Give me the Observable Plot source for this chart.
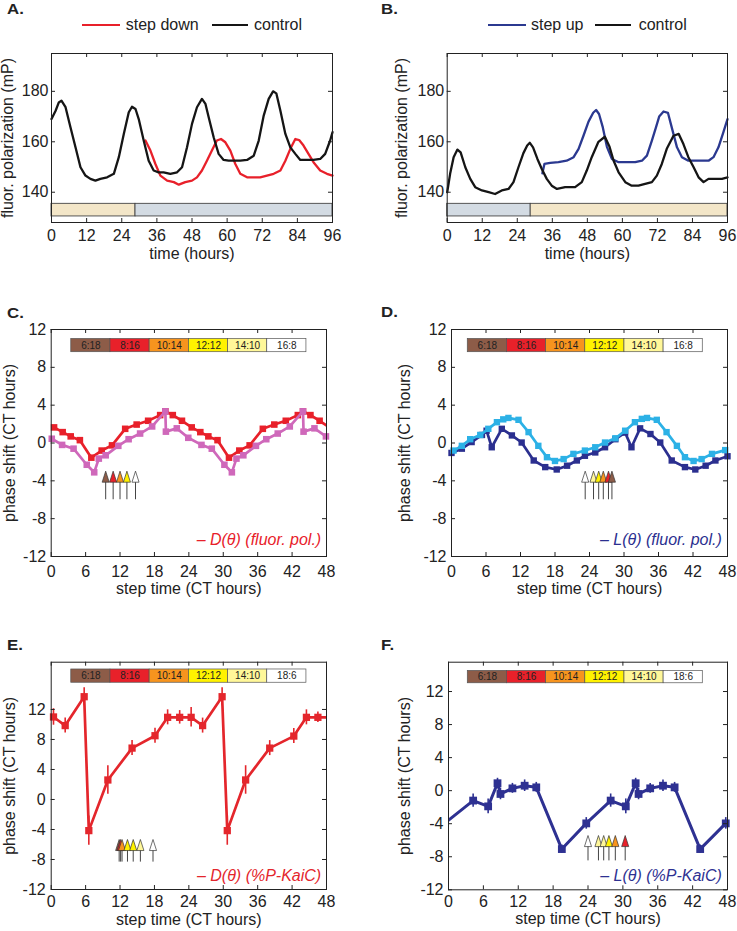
<!DOCTYPE html>
<html><head><meta charset="utf-8">
<script src="https://cdn.jsdelivr.net/npm/d3@7"></script>
<script src="https://cdn.jsdelivr.net/npm/@observablehq/plot@0.6"></script>
<style>
body{margin:0;background:#fff;}
#root{position:relative;width:737px;height:931px;overflow:hidden;font-family:"Liberation Sans",Arial,Helvetica,sans-serif;color:#222;}
.plab{position:absolute;font-weight:bold;font-size:14px;line-height:14px;transform:scaleX(1.2);transform-origin:left top;z-index:2;}
.legt{position:absolute;font-size:16px;line-height:16px;white-space:nowrap;}
.legl{position:absolute;height:2.6px;}
</style></head><body><div id="root"></div>
<script>
// ---------------- DATA ----------------
// Panel A: fluorescence polarization traces (time in hours, mP)
const aControlT = [0,1.4,2.5,3.4,4.8,6.5,8.2,9.9,11.6,13.3,15,16.7,19,21.3,23,24.7,26.4,27.5,28.7,29.8,31.5,33.2,34.9,36.6,38.3,40.6,42.9,44.6,46.3,48,49.7,51.4,52.6,53.7,55.4,57.1,58.8,60.5,62.2,64.5,66.8,69.1,70.8,72.5,74.2,75.7,76.8,78.2,79.9,81.6,83.3,85,87.3,89.5,91.8,93.5,95.2,96];
const aControlV = [169,172.3,175.6,176.3,173.7,165.7,157.8,149.9,146.6,145.3,144.6,145.3,145.9,147.3,153.9,163.1,171.7,173.9,173,169,160.5,152.5,148.6,147.9,147.9,147.3,147.9,149.9,157.8,167.1,173.7,177,175,169.7,161.8,155.2,152.8,152.5,152.5,152.5,152.8,154.5,160.5,170.4,177,180,179.2,172.3,163.1,157.8,155.2,152.8,152.8,152.8,153.2,155.2,160.5,163.8];
const aStepDownT = [32.1,33.8,35.5,37.2,39.5,41.8,43.5,45.7,48,49.7,51.4,53.1,54.8,56.5,57.9,59.4,61.1,62.8,64.5,66.8,69.1,71.3,73.6,75.9,78.2,79.9,81.6,83.3,84.6,86.1,87.8,89.5,91.8,94.1,96];
const aStepDownV = [160.5,156.5,151.2,146.6,144.6,144,143,144,144.6,145.9,148.6,152.5,156.5,160.5,161.1,159.8,156.5,151.2,147.3,145.9,145.9,145.9,146.6,147.3,148.6,152.5,157.2,161.1,160.7,158.5,155.2,151.9,148.6,147.3,146.6];
// Panel B
const bControlT = [0,1,2.2,3.5,4.6,6.2,7.9,9.6,11.9,14.2,16.4,18.7,21,22.7,24.4,26.1,27.4,28.3,29.4,30.9,32.4,34.1,35.8,37.6,40.4,43.8,46.1,47.8,49.5,51.8,54,55.6,57,58.7,61,63.2,65.5,67.8,70.1,71.8,73.5,75.2,77.5,79.3,80.9,82.6,84.4,86.1,87.8,89.5,91.8,94.1,96];
const bControlV = [140,147.3,153.9,156.9,155.8,149.9,145.3,142,140.7,140,139.3,140.7,141.3,144,149.9,155.5,158.5,159.6,157.8,153.2,149.2,145.3,142.6,141.3,142,142,144,148.6,153.9,160,162,158,152.5,147.9,144,142.6,142.6,143.3,144,146.6,151.2,157.2,162.4,163.1,159.1,153.9,149.9,145.9,144,145.3,145.3,145.3,145.9];
const bStepUpT = [32.6,33.3,35.3,38.1,40.9,43.3,45,46.7,48.4,50,51,52,53.3,54.7,56.4,58.7,61,64.4,66.7,68.4,70.1,71.5,72.6,74.1,75.6,76.9,78.7,80.4,82.6,86.1,89.5,91.2,92.9,94.6,96];
const bStepUpV = [147.5,151.2,151.6,151.9,152.5,153.9,157.2,162.5,168,171.5,172.6,171,165.7,158,153.2,151.9,151.9,151.9,152.5,154.5,160.5,165.7,170,172,171.5,165.7,157.8,153.9,152.5,152.5,152.5,153.9,157.8,163.8,169];
// light schedule bars (boundaries in hours, and kind of each segment)
const aLightBounds = [0, 28.7, 96];
const aLightKinds = ["bright", "dim"];
const bLightBounds = [0, 28.6, 96];
const bLightKinds = ["dim", "bright"];
const lightBarRange = [130.4, 135.4];

// Panel C: phase shift vs step time
const cRedT = [0.5,2.0,3.4,5.0,7.0,8.8,10.6,12.9,14.9,16.9,19.0,19.9,21.2,22.8,24.5,26.0,27.4,29.0,31.0,32.8,34.6,36.9,38.9,40.9,43.0,43.9,45.2,46.8,48.5];
const cRedV = [1.65,1.15,0.7,0.3,-1.55,-0.8,-0.25,1.5,1.95,2.35,2.95,3.35,2.95,2.35,1.65,1.15,0.7,0.3,-1.55,-0.8,-0.25,1.5,1.95,2.35,2.95,3.35,2.95,2.35,1.65];
const cPinkT = [0.1,1.9,3.9,6.2,7.5,8.3,9.5,11.7,13.5,15.5,17.6,19.9,20.0,21.9,23.9,26.2,28.0,30.2,31.5,32.3,33.5,35.7,37.5,39.5,41.6,43.9,44.0,45.9,47.9];
const cPinkV = [0.45,-0.2,-0.6,-2.3,-3.1,-1.65,-1.3,-0.3,0.4,1.0,1.75,3.35,1.2,1.55,0.55,-0.2,-0.6,-2.3,-3.1,-1.65,-1.3,-0.3,0.4,1.0,1.75,3.35,1.2,1.55,0.7];
// Panel D
const dCyanT = [0.35,1.8,3.25,5.0,6.4,7.9,9.0,9.9,11.65,13.4,15.1,16.6,18.0,19.5,21.2,23.2,25.0,26.7,28.5,30.2,31.9,33.1,34.0,35.7,37.4,39.2,40.6,42.1,43.5,45.3,47.6];
const dCyanV = [-0.8,-0.3,0.4,0.85,1.5,2.2,2.5,2.65,2.45,1.15,-0.3,-1.5,-1.9,-1.7,-1.15,-0.8,-0.45,0.05,0.5,1.3,2.2,2.55,2.65,2.45,1.15,-0.3,-1.5,-1.9,-1.7,-1.15,-0.75];
const dNavyT = [0,1.8,3.5,5.3,6.1,7.0,8.75,10.5,12.2,14.3,16.3,18.3,20.1,21.8,23.2,25.0,26.7,28.5,30.2,31.3,32.8,34.6,36.3,38.3,40.6,42.4,44.2,45.9,48];
const dNavyV = [-1.05,-0.6,0.1,0.85,1.3,-0.45,1.5,0.8,0.05,-1.85,-2.55,-2.8,-2.4,-1.85,-1.35,-1.0,-0.45,0.4,1.1,-0.45,1.55,0.95,0.05,-1.85,-2.55,-2.8,-2.4,-1.85,-1.4];
// Panel E (with error bars)
const eT = [0.4,2.44,5.75,6.56,9.88,14.1,18.1,20.3,22.4,24.4,26.4,29.8,30.7,33.9,38.1,42.3,44.5,46.5,48.4];
const eV = [11.0,9.85,13.7,-4.15,2.6,6.85,8.5,10.95,10.95,10.95,9.85,13.7,-4.15,2.6,6.85,8.45,10.95,10.95,10.95];
const eErr = [1.1,1.0,1.2,1.95,1.9,1.0,1.0,1.0,0.9,1.3,1.0,1.2,1.95,1.9,1.0,1.0,1.0,0.7,0];
// Panel F
const fT = [-0.7,4.24,6.82,8.43,8.94,11.0,13.1,15.1,19.5,23.7,27.9,30.5,32.2,32.7,34.7,36.9,38.9,43.3,47.7];
const fV = [-3.96,-1.2,-1.9,0.9,-0.4,0.28,0.6,0.4,-7.07,-3.96,-1.2,-1.9,0.9,-0.4,0.28,0.6,0.4,-7.07,-3.96];
const fErr = [0,0.8,0.9,0.6,0.7,0.6,0.7,0.6,0.5,0.7,0.8,0.9,0.6,0.7,0.6,0.7,0.6,0.5,0.7];

// photoperiod labels
const photoLabelsCD = ["6:18","8:16","10:14","12:12","14:10","16:8"];
const photoLabelsEF = ["6:18","8:16","10:14","12:12","14:10","18:6"];
// transition arrows (step time, photoperiod index)
const cArrowT = [9.5,10.8,12.0,13.2,14.7];
const cArrowK = [0,1,2,3,5];
const dArrowT = [23.25,24.7,25.6,26.4,27.3,27.9];
const dArrowK = [5,4,3,2,1,0];
const eArrowT = [11.85,12.1,12.35,13.3,14.3,15.55,17.75];
const eArrowK = [0,1,2,3,3,4,5];
const fArrowT = [24.0,25.8,26.7,27.6,28.7,30.4];
const fArrowK = [5,4,4,3,2,1];

const xTicks96 = [0,12,24,36,48,60,72,84,96];
const yTicksAB = [140,160,180];
const xTicks48 = [0,6,12,18,24,30,36,42,48];
const yTicksPhase = [-12,-8,-4,0,4,8,12];

// ---------------- STYLE ----------------
const FONT = '"Liberation Sans", Arial, Helvetica, sans-serif';
const INK = "#222";
const TL = 4;
const RED = "#e8202a", BLACK = "#151515", BLUE = "#2b3990";
const PINK = "#cf68ba", CYAN = "#2cb1e6", NAVY = "#2b2f8f";
const ERED = "#e4262c", FNAVY = "#2e3192";
const photoColors = ["#8d5c48","#e8212a","#f7941e","#fff200","#fff799","#ffffff"];
const lightFill = {bright: "#f3e6c8", dim: "#d3dbe3"};
const tallTriangle = {draw(ctx, size){ const s = Math.sqrt(size); const w = s*0.5, h = s*0.78; ctx.moveTo(0,-h); ctx.lineTo(w,h); ctx.lineTo(-w,h); ctx.closePath(); }};

const root = document.getElementById("root");
const zip = (ts, vs, es) => ts.map((t,i) => ({t, v: vs[i], e: es ? es[i] : 0}));

function frameMarks(xd, yd, xt, yt, o){
  return [
    Plot.frame({stroke: INK, strokeWidth: 1}),
    Plot.ruleX(xt, {x: d=>d, y1: yd[0], y2: yd[0], insetTop: -TL, stroke: INK}),
    Plot.ruleX(xt, {x: d=>d, y1: yd[1], y2: yd[1], insetBottom: -TL, stroke: INK}),
    Plot.ruleY(yt, {y: d=>d, x1: xd[0], x2: xd[0], insetRight: -TL, stroke: INK}),
    Plot.ruleY(yt, {y: d=>d, x1: xd[1], x2: xd[1], insetLeft: -TL, stroke: INK}),
    Plot.axisX(xt, {tickSize: 0, tickPadding: o.xPad, tickFormat: d=>String(d), fontSize: 16, label: null}),
    Plot.axisY(yt, {tickSize: 0, tickPadding: o.yPad, tickFormat: d=>String(d), fontSize: 16, label: null}),
    Plot.text([o.xLabel], {frameAnchor: "bottom", textAnchor: "middle", lineAnchor: "middle", dy: o.xLabelDy, text: d=>d, fontSize: 16}),
    Plot.text([o.yLabel], {frameAnchor: "left", textAnchor: "middle", lineAnchor: "middle", dx: o.yLabelDx, rotate: -90, text: d=>d, fontSize: 16})
  ];
}

function makePanel(p){
  const svg = Plot.plot({
    width: p.width, height: p.height,
    marginTop: p.m[0], marginRight: p.m[1], marginBottom: p.m[2], marginLeft: p.m[3],
    x: {domain: p.xd, label: null}, y: {domain: p.yd, label: null},
    color: {type: "identity"},
    style: {fontFamily: FONT, fontSize: "16px", color: INK, background: "transparent", overflow: "visible"},
    marks: [...p.marks, ...frameMarks(p.xd, p.yd, p.xt, p.yt, p)]
  });
  svg.style.position = "absolute"; svg.style.left = p.left + "px"; svg.style.top = p.top + "px";
  root.appendChild(svg);
}

function lightBar(bounds, kinds){
  const segs = kinds.map((k,i) => ({t1: bounds[i], t2: bounds[i+1], kind: k}));
  return Plot.rect(segs, {x1: "t1", x2: "t2", y1: lightBarRange[0], y2: lightBarRange[1], fill: d => lightFill[d.kind], stroke: "#444", strokeWidth: 0.9});
}
function photoBar(labels, b){
  const w = (b.x1 - b.x0) / labels.length;
  const cells = labels.map((label,i) => ({label, kind: i, x1: b.x0 + i*w, x2: b.x0 + (i+1)*w}));
  return [
    Plot.rect(cells, {x1: "x1", x2: "x2", y1: b.y0, y2: b.y1, fill: d => photoColors[d.kind], stroke: "#555", strokeWidth: 0.7}),
    Plot.text(cells, {x: d => (d.x1 + d.x2)/2, y: (b.y0 + b.y1)/2, text: "label", fontSize: 10, fill: "#222"})
  ];
}
function arrows(ts, ks, lv){
  const data = ts.map((t,i) => ({t, kind: ks[i]}));
  return [
    Plot.ruleX(data, {x: "t", y1: lv.stem, y2: lv.tri, stroke: "#444", strokeWidth: 1}),
    Plot.dot(data, {x: "t", y: lv.tri, r: 4, symbol: tallTriangle, fill: d => photoColors[d.kind], stroke: "#333", strokeWidth: 0.7})
  ];
}
function series(data, color, r, sw, withErr){
  const inside = data.filter(d => d.t >= 0 && d.t <= 48);
  const m = [];
  if (withErr) m.push(Plot.ruleX(inside.filter(d => d.e > 0), {x: "t", y1: d => d.v - d.e, y2: d => d.v + d.e, stroke: color, strokeWidth: 1.6}));
  m.push(Plot.line(data, {x: "t", y: "v", stroke: color, strokeWidth: sw, clip: true}));
  m.push(Plot.dot(inside, {x: "t", y: "v", symbol: "square", r, fill: color}));
  return m;
}
function italicLabel(text, color, dx, dy){
  return Plot.text([text], {frameAnchor: "bottom-right", textAnchor: "end", lineAnchor: "middle", dx, dy, text: d=>d, fontSize: 16, fontStyle: "italic", fill: color});
}

// ---------------- PANELS ----------------
makePanel({left: 0, top: 40, width: 368, height: 232, m: [13, 36, 50, 51],
  xd: [0,96], yd: [128,195], xt: xTicks96, yt: yTicksAB, xPad: 7, yPad: 3,
  xLabel: "time (hours)", xLabelDy: 31, yLabel: "fluor. polarization (mP)", yLabelDx: -44,
  marks: [lightBar(aLightBounds, aLightKinds),
    Plot.line(zip(aStepDownT, aStepDownV), {x: "t", y: "v", stroke: RED, strokeWidth: 2.3}),
    Plot.line(zip(aControlT, aControlV), {x: "t", y: "v", stroke: BLACK, strokeWidth: 2.3})]});

makePanel({left: 368, top: 40, width: 369, height: 232, m: [13, 10, 50, 78.7],
  xd: [0,96], yd: [128,195], xt: xTicks96, yt: yTicksAB, xPad: 7, yPad: 3,
  xLabel: "time (hours)", xLabelDy: 31, yLabel: "fluor. polarization (mP)", yLabelDx: -45,
  marks: [lightBar(bLightBounds, bLightKinds),
    Plot.line(zip(bStepUpT, bStepUpV), {x: "t", y: "v", stroke: BLUE, strokeWidth: 2.3}),
    Plot.line(zip(bControlT, bControlV), {x: "t", y: "v", stroke: BLACK, strokeWidth: 2.3})]});

makePanel({left: 0, top: 322, width: 368, height: 285, m: [7, 42, 51, 50.7],
  xd: [0,48], yd: [-12,12], xt: xTicks48, yt: yTicksPhase, xPad: 9, yPad: 5,
  xLabel: "step time (CT hours)", xLabelDy: 32, yLabel: "phase shift (CT hours)", yLabelDx: -41,
  marks: [...photoBar(photoLabelsCD, {x0: 3.5, x1: 44.5, y0: 9.6, y1: 11.0}),
    ...series(zip(cRedT, cRedV), RED, 3.7, 2.7),
    ...series(zip(cPinkT, cPinkV), PINK, 3.7, 2.7),
    ...arrows(cArrowT, cArrowK, {tri: -3.56, stem: -6.0}),
    italicLabel("– D(θ) (fluor. pol.)", RED, -5.3, -16.5)]});

makePanel({left: 368, top: 322, width: 369, height: 285, m: [7, 10, 51, 83],
  xd: [0,48], yd: [-12,12], xt: xTicks48, yt: yTicksPhase, xPad: 9, yPad: 5,
  xLabel: "step time (CT hours)", xLabelDy: 32, yLabel: "phase shift (CT hours)", yLabelDx: -46.5,
  marks: [...photoBar(photoLabelsCD, {x0: 2.83, x1: 43.7, y0: 9.6, y1: 11.0}),
    ...series(zip(dNavyT, dNavyV), NAVY, 3.6, 2.7),
    ...series(zip(dCyanT, dCyanV), CYAN, 3.6, 2.7),
    ...arrows(dArrowT, dArrowK, {tri: -3.56, stem: -6.0}),
    italicLabel("– L(θ) (fluor. pol.)", NAVY, -5.7, -16.5)]});

makePanel({left: 0, top: 655, width: 368, height: 276, m: [6.7, 42, 42, 50.7],
  xd: [0,48], yd: [-12,18.3], xt: xTicks48, yt: yTicksPhase, xPad: 6.5, yPad: 5.5,
  xLabel: "step time (CT hours)", xLabelDy: 30, yLabel: "phase shift (CT hours)", yLabelDx: -41,
  marks: [...photoBar(photoLabelsEF, {x0: 3.5, x1: 44.5, y0: 15.56, y1: 17.33}),
    ...series(zip(eT, eV, eErr), ERED, 4.1, 2.7, true),
    ...arrows(eArrowT, eArrowK, {tri: -6.07, stem: -8.35}),
    italicLabel("– D(θ) (%P-KaiC)", ERED, -5.3, -14)]});

makePanel({left: 368, top: 655, width: 369, height: 276, m: [6.7, 10, 41.7, 80],
  xd: [0,48], yd: [-12,15.55], xt: xTicks48, yt: yTicksPhase, xPad: 6, yPad: 5,
  xLabel: "step time (CT hours)", xLabelDy: 29, yLabel: "phase shift (CT hours)", yLabelDx: -43.5,
  marks: [...photoBar(photoLabelsEF, {x0: 3.32, x1: 43.75, y0: 13.0, y1: 14.5}),
    ...series(zip(fT, fV, fErr), FNAVY, 4.4, 3, true),
    ...arrows(fArrowT, fArrowK, {tri: -6.1, stem: -8.5}),
    italicLabel("– L(θ) (%P-KaiC)", FNAVY, -5.7, -14)]});

// ---------------- LABELS & LEGENDS ----------------
const panelLabels = [["A.",7,2],["B.",381,2],["C.",7,306],["D.",381,305],["E.",7,638],["F.",381,638]];
panelLabels.forEach(([t,x,y]) => { const d = document.createElement("div"); d.className = "plab"; d.textContent = t; d.style.left = x+"px"; d.style.top = y+"px"; root.appendChild(d); });

const legendA = [{label: "step down", color: RED, l1: 82, l2: 120, tx: 125.7}, {label: "control", color: BLACK, l1: 212, l2: 248, tx: 254}];
const legendB = [{label: "step up", color: BLUE, l1: 488, l2: 526, tx: 531}, {label: "control", color: BLACK, l1: 595, l2: 631, tx: 638.7}];
[...legendA, ...legendB].forEach(it => {
  const ln = document.createElement("div"); ln.className = "legl";
  ln.style.left = it.l1+"px"; ln.style.width = (it.l2-it.l1)+"px"; ln.style.top = "23.7px"; ln.style.background = it.color;
  root.appendChild(ln);
  const tx = document.createElement("div"); tx.className = "legt"; tx.textContent = it.label;
  tx.style.left = it.tx+"px"; tx.style.top = "16.5px";
  root.appendChild(tx);
});
</script></body></html>
